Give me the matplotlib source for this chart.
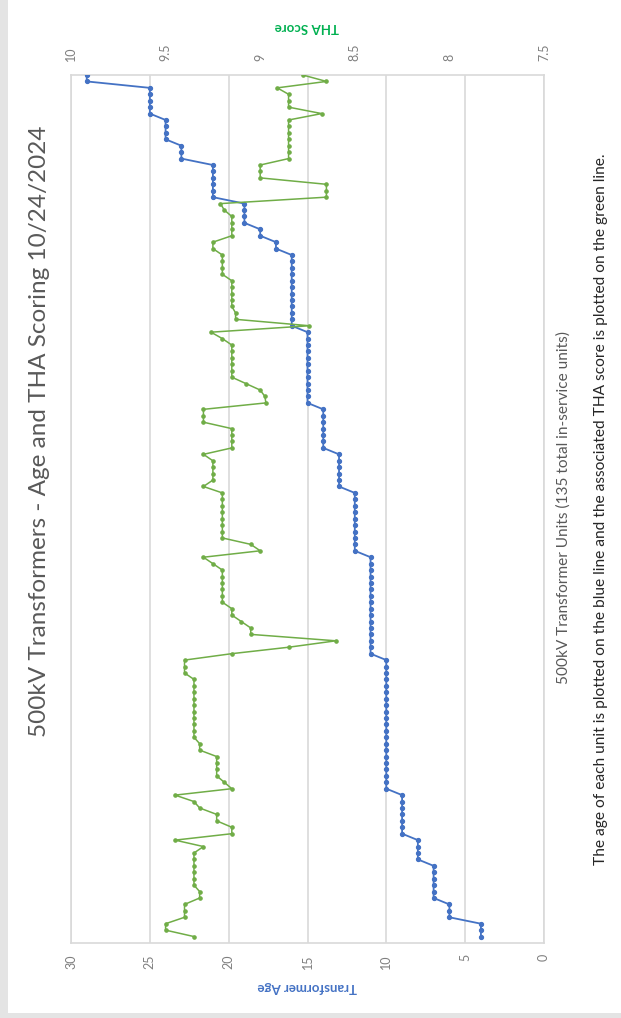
import matplotlib
matplotlib.use("Agg")
import matplotlib.pyplot as plt
from matplotlib.patches import Rectangle
from matplotlib.ticker import FixedLocator, FuncFormatter

plt.rcParams['font.family'] = ['Lato', 'DejaVu Sans']

# Transformer ages (years), unit 1 .. unit 135
age_groups = [(4, 3), (6, 3), (7, 6), (8, 4), (9, 7), (10, 21), (11, 16), (12, 10),
              (13, 6), (14, 7), (15, 12), (16, 12), (17, 2), (18, 2), (19, 4),
              (21, 6), (23, 3), (24, 4), (25, 5), (29, 2)]
ages = [a for a, n in age_groups for _ in range(n)]

# THA score for each unit, unit 1 .. unit 135
tha_scores = [
    9.35, 9.50, 9.50, 9.40, 9.40, 9.40, 9.32, 9.32, 9.35, 9.35,
    9.35, 9.35, 9.35, 9.35, 9.30, 9.45, 9.15, 9.15, 9.23, 9.23,
    9.32, 9.35, 9.45, 9.15, 9.19, 9.23, 9.23, 9.23, 9.23, 9.32,
    9.32, 9.35, 9.35, 9.35, 9.35, 9.35, 9.35, 9.35, 9.35, 9.35,
    9.35, 9.40, 9.40, 9.40, 9.15, 8.85, 8.60, 9.05, 9.05, 9.10,
    9.15, 9.15, 9.20, 9.20, 9.20, 9.20, 9.20, 9.20, 9.25, 9.30,
    9.00, 9.05, 9.20, 9.20, 9.20, 9.20, 9.20, 9.20, 9.20, 9.20,
    9.30, 9.25, 9.25, 9.25, 9.25, 9.30, 9.15, 9.15, 9.15, 9.15,
    9.30, 9.30, 9.30, 8.97, 8.975, 9.00, 9.075, 9.15, 9.15, 9.15,
    9.15, 9.15, 9.15, 9.20, 9.26, 8.74, 9.13, 9.13, 9.15, 9.15,
    9.15, 9.15, 9.15, 9.20, 9.20, 9.20, 9.20, 9.25, 9.25, 9.15,
    9.15, 9.15, 9.15, 9.19, 9.21, 8.65, 8.65, 8.65, 9.00, 9.00,
    9.00, 8.85, 8.85, 8.85, 8.85, 8.85, 8.85, 8.85, 8.675, 8.85,
    8.85, 8.85, 8.91, 8.65, 8.775,
]
units = list(range(1, len(ages) + 1))

age_ticks = [0, 5, 10, 15, 20, 25, 30]
tha_ticks = [7.5, 8, 8.5, 9, 9.5, 10]

BLUE = '#4472c4'
GREEN = '#70ad47'
GRID = '#d9d9d9'
TICK = '#7f7f7f'

W, H = 621, 1018
fig = plt.figure(figsize=(W / 100, H / 100), dpi=100)
fig.patch.set_facecolor('white')

# light grey frame strips along the left and bottom edges
fig.patches.append(Rectangle((0, 0), 8 / W, 1, transform=fig.transFigure,
                             facecolor='#e4e4e4', edgecolor='none', zorder=0))
fig.patches.append(Rectangle((0, 0), 1, 5 / H, transform=fig.transFigure,
                             facecolor='#e4e4e4', edgecolor='none', zorder=0))

x0, x1, y_top, y_bot = 71, 544, 75, 943
ax = fig.add_axes([x0 / W, 1 - y_bot / H, (x1 - x0) / W, (y_bot - y_top) / H])

# age axis runs right-to-left along the bottom, units run upward
ax.set_xlim(30, 0)
ax.set_ylim(0, len(ages))
ax.xaxis.set_major_locator(FixedLocator(age_ticks))
ax.set_yticks([])
ax.grid(axis='x', color=GRID, linewidth=1.2, zorder=0)
for s in ax.spines.values():
    s.set_color(GRID)
    s.set_linewidth(1.2)
ax.tick_params(axis='x', length=0, pad=8, labelsize=9, labelcolor=TICK,
               labelrotation=90)

ax.plot(ages, units, color=BLUE, linewidth=1.3, marker='o', markersize=2.8,
        zorder=3)

ax2 = ax.twiny()
ax2.set_xlim(10, 7.5)
ax2.xaxis.set_major_locator(FixedLocator(tha_ticks))
ax2.xaxis.set_major_formatter(FuncFormatter(lambda v, p: f'{v:g}'))
ax2.tick_params(axis='x', length=0, pad=10, labelsize=9, labelcolor=TICK,
                labelrotation=90)
for s in ax2.spines.values():
    s.set_visible(False)
ax2.plot(tha_scores, units, color=GREEN, linewidth=1.1, marker='o',
         markersize=2.3, zorder=3)

# axis titles
fig.text(307 / W, 1 - 987 / H, 'Transformer Age', rotation=180, color=BLUE,
         fontsize=9.5, fontweight='bold', ha='center', va='center')
fig.text(307 / W, 1 - 27 / H, 'THA Score', rotation=180, color='#00b050',
         fontsize=9.5, fontweight='bold', ha='center', va='center')

# chart title and notes, read bottom-to-top
fig.text(40 / W, 1 - 431 / H,
         '500kV Transformers - Age and THA Scoring 10/24/2024',
         rotation=90, color='#595959', fontsize=17.5, fontweight='normal',
         ha='center', va='center')
fig.text(564 / W, 1 - 508 / H,
         '500kV Transformer Units (135 total in-service units)',
         rotation=90, color='#595959', fontsize=11.1, ha='center', va='center')
fig.text(601 / W, 1 - 509 / H,
         'The age of each unit is plotted on the blue line and the associated '
         'THA score is plotted on the green line.',
         rotation=90, color='#262626', fontsize=11.2, ha='center', va='center')

fig.savefig('out.png', dpi=100)
